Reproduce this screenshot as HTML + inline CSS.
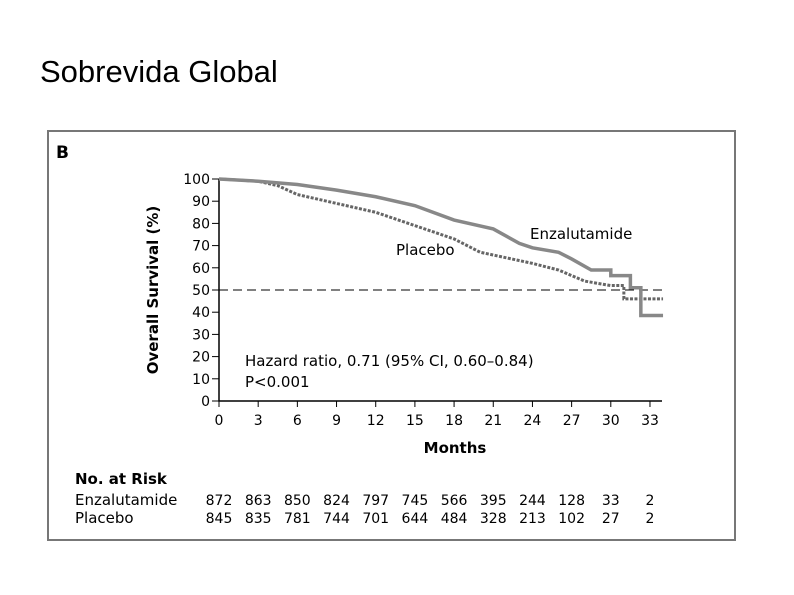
<!DOCTYPE html>
<html><head><meta charset="utf-8"><style>
body{margin:0;background:#fff;width:794px;height:595px;overflow:hidden;font-family:"Liberation Sans",sans-serif}
</style></head><body>
<div style="position:absolute;left:40px;top:54px;font-size:31px;color:#000;transform:scaleX(1.0)">Sobrevida Global</div>
<svg id="c" width="794" height="595" style="position:absolute;left:0;top:0" font-family="DejaVu Sans, Liberation Sans, sans-serif"></svg>
<script>
const ticksX=[0,3,6,9,12,15,18,21,24,27,30,33];
const ticksY=[0,10,20,30,40,50,60,70,80,90,100];
const enzaMonths=[0,3,6,9,12,15,18,21,23,24,26,27,28.5,30,31.5,32.3,34];
const enzaValues=[100,99,97.5,95,92,88,81.5,77.5,71,69,67,64,59,56.5,51,38.5,38.5];
const placMonths=[0,3,4.5,6,9,12,15,18,20,22,24,26,28,30,31,34];
const placValues=[100,99,97,93,89,85,79,73,67,64.5,62,59,54,52,46,46];
const riskEnza=[872,863,850,824,797,745,566,395,244,128,33,2];
const riskPlac=[845,835,781,744,701,644,484,328,213,102,27,2];
const svg=document.getElementById('c');const NS='http://www.w3.org/2000/svg';
const X=m=>219+m*13.06, Y=v=>401-v*2.22;
function el(t,a,txt){const e=document.createElementNS(NS,t);for(const k in a)e.setAttribute(k,a[k]);if(txt!=null)e.textContent=txt;svg.appendChild(e);return e;}
let f=el('rect',{x:48,y:131,width:687,height:409,fill:'none',stroke:'#777','stroke-width':2});

let b=el('text',{x:56,y:158,'font-size':17,'font-weight':'bold'},'B');

let ax=el('path',{d:`M219 179 V401 H662`,fill:'none',stroke:'#000','stroke-width':1.5});

ticksY.forEach(v=>{el('line',{x1:212,x2:219,y1:Y(v),y2:Y(v),stroke:'#000'});
 let t=el('text',{x:210,y:Y(v)+5,'font-size':14,'text-anchor':'end'},v);
 });
ticksX.forEach(m=>{el('line',{x1:X(m),x2:X(m),y1:401,y2:407,stroke:'#000'});
 let t=el('text',{x:X(m),y:425,'font-size':14,'text-anchor':'middle'},m);
 });
let yt=el('text',{x:0,y:0,'font-size':15,'font-weight':'bold','text-anchor':'middle',transform:'translate(158,290) rotate(-90)'},'Overall Survival (%)');

let xt=el('text',{x:455,y:453,'font-size':15,'font-weight':'bold','text-anchor':'middle'},'Months');

let ref=el('line',{x1:219,x2:662,y1:Y(50),y2:Y(50),stroke:'#000','stroke-dasharray':'9,5'});

function smooth(ms,vs,stepFrom){let d=`M${X(ms[0])} ${Y(vs[0])}`;for(let i=1;i<ms.length;i++){if(ms[i]>=stepFrom){d+=` L${X(ms[i])} ${Y(vs[i-1])} L${X(ms[i])} ${Y(vs[i])}`;}else d+=` L${X(ms[i])} ${Y(vs[i])}`;}return d;}
let pl=el('path',{d:smooth(placMonths,placValues,31),fill:'none',stroke:'#666','stroke-width':3,'stroke-dasharray':'3,1.5'});

let en=el('path',{d:smooth(enzaMonths,enzaValues,29.9),fill:'none',stroke:'#888','stroke-width':3.5});

let l1=el('text',{x:530,y:239,'font-size':15},'Enzalutamide');
let l2=el('text',{x:396,y:255,'font-size':15},'Placebo');
let h1=el('text',{x:245,y:366,'font-size':15},'Hazard ratio, 0.71 (95% CI, 0.60–0.84)');
let h2=el('text',{x:245,y:387,'font-size':15},'P<0.001');
let r0=el('text',{x:75,y:484,'font-size':15,'font-weight':'bold'},'No. at Risk');
let r1=el('text',{x:75,y:505,'font-size':15},'Enzalutamide');
let r2=el('text',{x:75,y:523,'font-size':15},'Placebo');
ticksX.forEach((m,i)=>{
 let a=el('text',{x:X(m),y:505,'font-size':14,'text-anchor':'middle'},riskEnza[i]);
 let c=el('text',{x:X(m),y:523,'font-size':14,'text-anchor':'middle'},riskPlac[i]);});
</script>
</body></html>
